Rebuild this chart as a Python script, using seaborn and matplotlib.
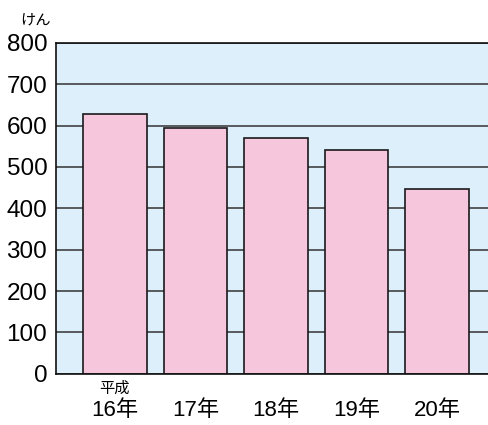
import pandas as pd
import numpy as np
import matplotlib.pyplot as plt
import seaborn as sns

# データ
years = ['16年', '17年', '18年', '19年', '20年']
counts = [628, 594, 571, 540, 448]
yticks = [0, 100, 200, 300, 400, 500, 600, 700, 800]

df = pd.DataFrame({'year': years, 'count': counts})

sns.set_style('white')
plt.rcParams['font.family'] = ['Liberation Sans', 'Noto Sans CJK JP', 'DejaVu Sans']
plt.rcParams['text.color'] = 'black'
plt.rcParams['xtick.color'] = 'black'
plt.rcParams['ytick.color'] = 'black'

fig = plt.figure(figsize=(4.88, 4.25), dpi=100)
ax = fig.add_axes([0.114, 0.1205, 0.886, 0.7785])
ax.set_facecolor('#ddeffa')

ax.set_axisbelow(True)
ax.yaxis.grid(True, color='#333333', linewidth=1.1)
sns.barplot(data=df, x='year', y='count', color='#f6c7dc', width=0.79,
            edgecolor='#1a1a1a', linewidth=1.2, saturation=1, ax=ax)

ax.set_xlim(-0.736, 4.63)
ax.set_ylim(0, 800)
ax.set_yticks(yticks)
ax.tick_params(axis='y', labelsize=17.5, length=0, pad=6)
ax.tick_params(axis='x', labelsize=16, length=0, pad=19)
ax.set_xlabel('')
ax.set_ylabel('')

for s in ['left', 'bottom', 'top']:
    ax.spines[s].set_color('#111111')
    ax.spines[s].set_linewidth(1.2)
ax.spines['right'].set_visible(False)

fig.text(0.072, 0.953, 'けん', fontsize=11, ha='center', va='center')
ax.text(0, -0.022, '平成', transform=ax.get_xaxis_transform(), fontsize=11,
        ha='center', va='top')

fig.savefig('out.png', dpi=100)
